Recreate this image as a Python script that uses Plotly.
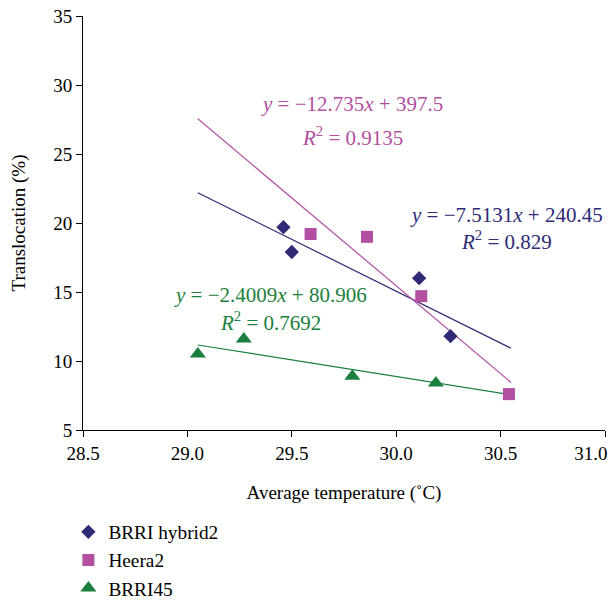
import plotly.graph_objects as go

# Data
hybrid_x = [29.46, 29.50, 30.11, 30.26]
hybrid_y = [19.7, 17.9, 16.0, 11.8]
heera_x = [29.59, 29.86, 30.12, 30.54]
heera_y = [19.2, 19.0, 14.7, 7.6]
brri45_x = [29.05, 29.27, 29.79, 30.19]
brri45_y = [10.5, 11.6, 8.9, 8.4]

series_names = ["BRRI hybrid2", "Heera2", "BRRI45"]
slopes = [-7.5131, -12.735, -2.4009]
intercepts = [240.45, 397.5, 80.906]
r2_values = ["0.829", "0.9135", "0.7692"]
trend_x = [29.05, 30.55]
x_ticks = [28.5, 29.0, 29.5, 30.0, 30.5, 31.0]
x_ticklabels = ["28.5", "29.0", "29.5", "30.0", "30.5", "31.0"]
y_ticks = [5, 10, 15, 20, 25, 30, 35]

navy = "#2E2A76"
magenta = "#B24FA0"
green = "#1B7F3E"
font_family = "Liberation Serif"

fig = go.Figure()

# trendlines
for slope, icpt, col in zip(slopes, intercepts, [navy, magenta, green]):
    fig.add_trace(go.Scatter(
        x=trend_x, y=[slope * t + icpt for t in trend_x], mode="lines",
        line=dict(color=col, width=1.2), showlegend=False, hoverinfo="skip"))

fig.add_trace(go.Scatter(x=hybrid_x, y=hybrid_y, mode="markers", name=series_names[0],
                         marker=dict(symbol="diamond", size=11, color=navy)))
fig.add_trace(go.Scatter(x=heera_x, y=heera_y, mode="markers", name=series_names[1],
                         marker=dict(symbol="square", size=12, color=magenta)))
fig.add_trace(go.Scatter(x=brri45_x, y=brri45_y, mode="markers", name=series_names[2],
                         marker=dict(symbol="triangle-up", size=14, color=green)))

def eq_text(slope, icpt):
    return "<i>y</i> = \u2212%s<i>x</i> + %s" % (("%g" % abs(slope)), ("%g" % icpt))

ann_pos = [  # (x, y_eq, y_r2) for navy, magenta, green
    (30.53, 20.58, 18.70),
    (29.79, 28.62, 26.30),
    (29.40, 14.78, 12.83),
]
for (ax, ye, yr), slope, icpt, r2, col in zip(ann_pos, slopes, intercepts, r2_values,
                                              [navy, magenta, green]):
    fig.add_annotation(x=ax, y=ye, xref="x", yref="y", text=eq_text(slope, icpt),
                       showarrow=False, font=dict(family=font_family, size=21, color=col))
    fig.add_annotation(x=ax, y=yr, xref="x", yref="y",
                       text="<i>R</i><sup>2</sup> = " + r2,
                       showarrow=False, font=dict(family=font_family, size=21, color=col))

# last tick label padded so it stays inside the page, like the reference
ticktext = list(x_ticklabels)
ticktext[-1] = ticktext[-1] + "\u00a0" * 6

fig.update_layout(
    width=611, height=600,
    margin=dict(l=83, r=6, t=16, b=170, autoexpand=False),
    plot_bgcolor="white", paper_bgcolor="white",
    font=dict(family=font_family, size=19, color="black"),
    legend=dict(x=-0.028, y=-0.2, xanchor="left", yanchor="top",
                font=dict(family=font_family, size=19.3, color="black"),
                tracegroupgap=0, itemwidth=30),
    xaxis=dict(range=[28.5, 31.0], tickvals=x_ticks, ticktext=ticktext,
               automargin=False, ticklabeloverflow="allow",
               showgrid=False, zeroline=False, showline=True, linecolor="black",
               linewidth=1, ticks="outside", ticklen=6, tickcolor="black",
               tickfont=dict(size=19),
               title=dict(text="Average temperature (\u02daC)", standoff=22,
                          font=dict(size=19))),
    yaxis=dict(range=[5, 35], tickvals=y_ticks, automargin=False,
               showgrid=False, zeroline=False,
               showline=True, linecolor="black", linewidth=1, ticks="outside",
               ticklen=6, tickcolor="black", tickfont=dict(size=19),
               title=dict(text="Translocation (%)", standoff=22, font=dict(size=19))),
)

fig.write_html("out.html", config={"displayModeBar": False},
               post_script="document.body.style.margin='0px';")
